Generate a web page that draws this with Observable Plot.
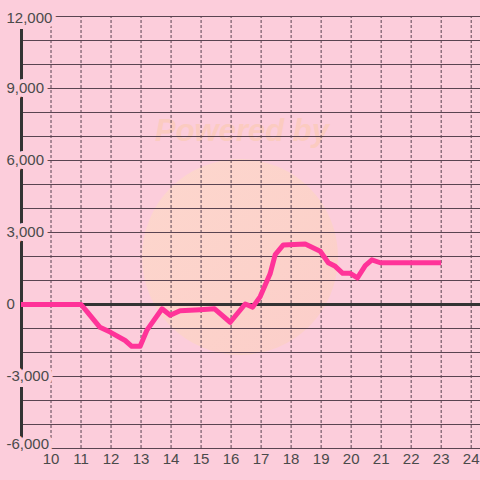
<!DOCTYPE html>
<html>
<head>
<meta charset="utf-8">
<script src="https://cdn.jsdelivr.net/npm/d3@7"></script>
<script src="https://cdn.jsdelivr.net/npm/@observablehq/plot@0.6"></script>
<style>
  html, body { margin: 0; padding: 0; background: #fccddb; }
  #wrap { position: relative; width: 480px; height: 480px; overflow: hidden; }
  #wm { position: absolute; left: 142px; top: 159px; width: 196px; height: 196px; border-radius: 50%;
        background: linear-gradient(135deg, #fdd8cc 0%, #fcd2c8 60%, #fbcdc8 100%); opacity: 0.9; }
  #wmt { position: absolute; left: 0; width: 484px; top: 113px; text-align: center;
         font: italic bold 31px "Liberation Sans", Arial, sans-serif; color: #fbcbc0; }
  #chart { position: absolute; left: 0; top: 0; }
</style>
</head>
<body>
<div id="wrap">
  <div id="wm"></div>
  <div id="wmt">Powered by</div>
  <div id="chart"></div>
</div>
<script>
const times  = [9, 11, 11.2, 11.63, 11.97, 12.47, 12.69, 12.97, 13.19, 13.7, 13.97, 14.3, 14.97, 15.45, 15.97, 16.47, 16.72, 16.97, 17.3, 17.47, 17.74, 18.47, 18.97, 19.24, 19.47, 19.72, 19.97, 20.21, 20.47, 20.69, 20.97, 23];
const values = [0, 0, -300, -950, -1150, -1500, -1740, -1740, -1080, -180, -450, -260, -220, -180, -740, 20, -110, 330, 1280, 2080, 2480, 2520, 2220, 1740, 1590, 1300, 1300, 1110, 1620, 1860, 1740, 1740];
const yTicks = [-6000, -5000, -4000, -3000, -2000, -1000, 0, 1000, 2000, 3000, 4000, 5000, 6000, 7000, 8000, 9000, 10000, 11000, 12000];
const yLabels = [-6000, -3000, 0, 3000, 6000, 9000, 12000];
const xTicks = [10, 11, 12, 13, 14, 15, 16, 17, 18, 19, 20, 21, 22, 23, 24];

const data = times.map((t, i) => ({t, v: values[i]}));
const bg = "#fccddb";
const fmt = d3.format(",");
const xMin = 8.983, xMax = 24.31;
// nudge the extreme labels inward so they fit inside the frame
const labelY = d => d === -6000 ? -5840 : d === 12000 ? 11940 : d;

const chart = Plot.plot({
  width: 480,
  height: 480,
  marginLeft: 20,
  marginRight: 0,
  marginTop: 16,
  marginBottom: 32,
  style: {background: "transparent", fontFamily: "'Liberation Sans', Arial, sans-serif"},
  x: {domain: [xMin, xMax], axis: null},
  y: {domain: [-6000, 12000], axis: null},
  marks: [
    Plot.ruleY(yTicks.filter(d => d !== 0), {x1: xMin, x2: xMax, stroke: "#5a4451", strokeWidth: 1}),
    Plot.ruleX(xTicks, {y1: -6000, y2: 12000, stroke: "#5a4451", strokeWidth: 1, strokeDasharray: "3,2"}),
    Plot.ruleY([0], {x1: xMin, x2: xMax, stroke: "#333333", strokeWidth: 3}),
    Plot.ruleX([xMin], {y1: -6000, y2: 12000, stroke: "#333333", strokeWidth: 3, dx: 1}),
    Plot.line(data, {x: "t", y: "v", stroke: "#ff3399", strokeWidth: 5, strokeLinejoin: "round", strokeLinecap: "butt"}),
    Plot.text(yLabels, {x: xMin, y: labelY, text: d => fmt(d).replace("−", "-"), textAnchor: "start", dx: -14, fontSize: 15, fill: bg, stroke: bg, strokeWidth: 8, strokeLinejoin: "miter"}),
    Plot.text(yLabels, {x: xMin, y: labelY, text: d => fmt(d).replace("−", "-"), textAnchor: "start", dx: -14, fontSize: 15, fill: "#4a4a4a"}),
    Plot.text(xTicks, {x: d => d, y: -6000, text: d => String(d), dy: 5, lineAnchor: "top", fontSize: 15, fill: "#4a4a4a"})
  ]
});
document.getElementById("chart").appendChild(chart);
</script>
</body>
</html>
